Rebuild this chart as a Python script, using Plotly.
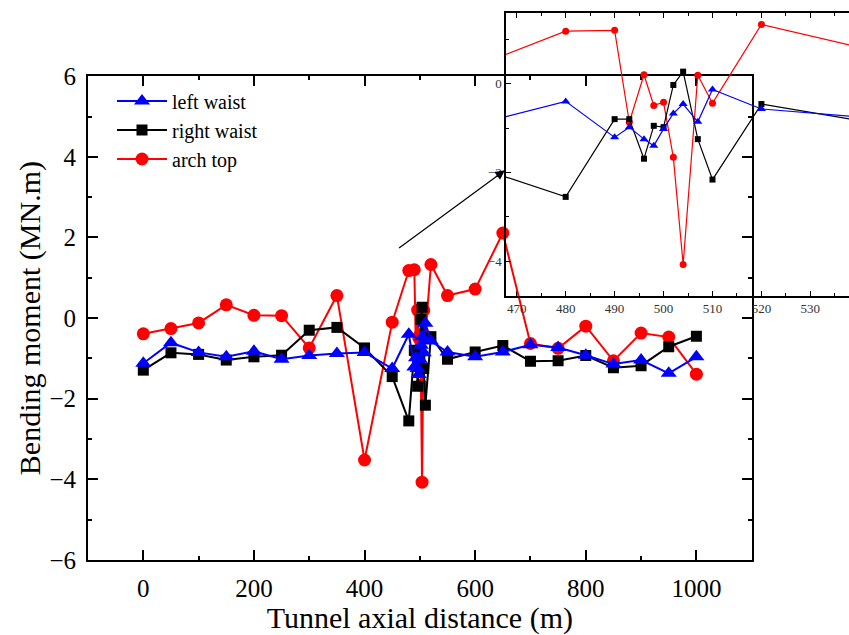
import plotly.graph_objects as go

# Tunnel axial distance (m)
distance = [0, 50, 100, 150, 200, 250, 300, 350, 400, 450,
            480, 490, 493, 496, 498, 500, 502, 504, 507, 510, 520,
            550, 600, 650, 700, 750, 800, 850, 900, 950, 1000]

# Bending moment (MN.m)
left_waist = [-1.12, -0.61, -0.85, -0.96, -0.82, -1.02, -0.93, -0.88, -0.85, -1.25,
              -0.40, -1.21, -0.98, -1.25, -1.40, -1.02, -0.67, -0.46, -0.86, -0.13, -0.57,
              -0.84, -0.96, -0.84, -0.66, -0.73, -0.92, -1.14, -1.04, -1.37, -0.96]
right_waist = [-1.29, -0.86, -0.90, -1.04, -0.96, -0.92, -0.30, -0.23, -0.74, -1.45,
               -2.55, -0.80, -0.80, -1.69, -0.95, -0.98, -0.03, 0.27, -1.25, -2.16, -0.46,
               -1.02, -0.84, -0.68, -1.07, -1.06, -0.93, -1.23, -1.18, -0.71, -0.45]
arch_top = [-0.39, -0.26, -0.12, 0.33, 0.07, 0.06, -0.74, 0.56, -3.52, -0.10,
            1.18, 1.20, -0.87, 0.20, -0.49, -0.42, -1.66, -4.07, 0.19, -0.44, 1.33,
            0.56, 0.72, 2.11, -0.63, -0.75, -0.20, -1.06, -0.37, -0.47, -1.39]

series = [
    # name, values, colour, marker symbol, main size, inset size, legend rank
    ("arch top", arch_top, "#ff0000", "circle", 13, 7, 3),
    ("right waist", right_waist, "#000000", "square", 11, 6, 2),
    ("left waist", left_waist, "#0000ff", "triangle-up", 14, 8, 1),
]

FONT = "Liberation Serif"
W, H = 849, 635
L, R, T, B = 88, 0, 9, 75
PW, PH = W - L - R, H - T - B


def fx(p):
    return (p - L) / PW


def fy(p):
    return (H - B - p) / PH


fig = go.Figure()

for name, vals, color, symbol, size, small, rank in series:
    fig.add_trace(go.Scatter(
        x=distance, y=vals, name=name, mode="lines+markers",
        line=dict(color=color, width=2),
        marker=dict(symbol=symbol, size=size, color=color),
        legendrank=rank, xaxis="x", yaxis="y"))
    fig.add_trace(go.Scatter(
        x=distance, y=vals, name=name, mode="lines+markers", showlegend=False,
        line=dict(color=color, width=1.2),
        marker=dict(symbol=symbol, size=small, color=color),
        xaxis="x2", yaxis="y2"))

main_axis = dict(showline=True, linewidth=2, linecolor="black", mirror="allticks",
                 ticks="inside", ticklen=10, tickwidth=1.5, tickcolor="black",
                 showgrid=False, zeroline=False,
                 tickfont=dict(family=FONT, size=25, color="black"))
inset_axis = dict(showline=True, linewidth=1.5, linecolor="black",
                  ticks="inside", ticklen=5, tickwidth=1, tickcolor="black",
                  showgrid=False, zeroline=False,
                  tickfont=dict(family=FONT, size=13, color="#333333"))

fig.update_layout(
    width=W, height=H,
    margin=dict(l=L, r=R, t=T, b=B, pad=0),
    paper_bgcolor="white",
    plot_bgcolor="rgba(0,0,0,0)",
    font=dict(family=FONT, color="black"),
    xaxis=dict(main_axis, domain=[0, fx(751.7)], range=[-100, 1100],
               tick0=0, dtick=200, ticklabelstandoff=5,
               minor=dict(ticks="inside", ticklen=4, dtick=100, tickwidth=1.5, tickcolor="black"),
               title=dict(text="Tunnel axial distance (m)", font=dict(family=FONT, size=30),
                          standoff=6),
               anchor="y"),
    yaxis=dict(main_axis, domain=[0, fy(72.7)], range=[-6, 6],
               tick0=0, dtick=2,
               minor=dict(ticks="inside", ticklen=4, dtick=1, tickwidth=1.5, tickcolor="black"),
               ticklabelstandoff=5,
               title=dict(text="Bending moment (MN.m)", font=dict(family=FONT, size=30),
                          standoff=0),
               anchor="x"),
    xaxis2=dict(inset_axis, domain=[fx(506), 1], range=[467.8, 537.9],
                tick0=470, dtick=10, mirror="allticks",
                minor=dict(ticks="inside", ticklen=3, dtick=5, tickcolor="black"),
                anchor="y2"),
    yaxis2=dict(inset_axis, domain=[fy(294), 1], range=[-4.78, 1.59],
                tick0=0, dtick=2, mirror=False,
                minor=dict(ticks="inside", ticklen=3, dtick=1, tickcolor="black"),
                anchor="x2"),
    legend=dict(x=fx(112), y=fy(78), xanchor="left", yanchor="top",
                bgcolor="rgba(0,0,0,0)", font=dict(family=FONT, size=20),
                tracegroupgap=0, itemwidth=50),
    showlegend=True,
)

# pointer from the dense section to the zoomed panel
ARROW_TAIL = (459.7, 1.71)
ARROW_TIP = (653.8, 3.67)
fig.add_annotation(x=ARROW_TIP[0], y=ARROW_TIP[1], xref="x", yref="y",
                   ax=ARROW_TAIL[0], ay=ARROW_TAIL[1], axref="x", ayref="y",
                   text="", showarrow=True, arrowhead=2, arrowsize=1.6,
                   arrowwidth=1.2, arrowcolor="black", standoff=0)

fig.write_html("out.html")
